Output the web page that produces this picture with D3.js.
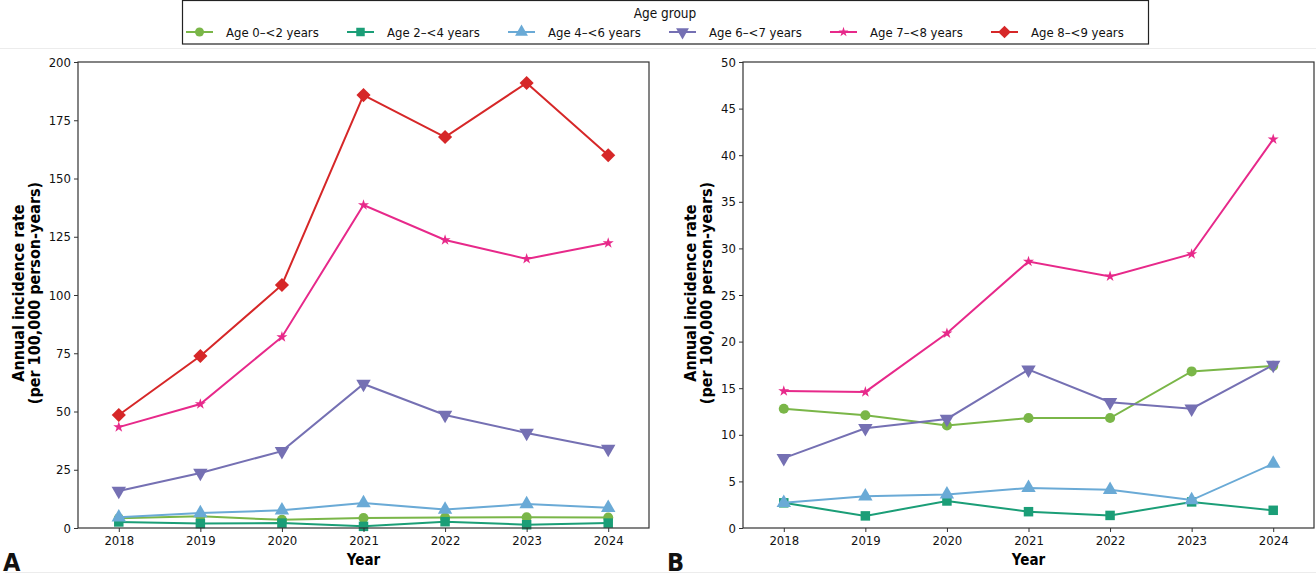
<!DOCTYPE html>
<html>
<head>
<meta charset="utf-8">
<script src="https://cdn.jsdelivr.net/npm/d3@7"></script>
<style>
  html, body { margin: 0; padding: 0; background: #fff; }
  svg { display: block; font-family: "DejaVu Sans", sans-serif; font-stretch: condensed; }
</style>
</head>
<body>
<svg id="chart" width="1316" height="577"></svg>
<script>
// ---------- Data ----------
const years = [2018, 2019, 2020, 2021, 2022, 2023, 2024];
const groups = ["Age 0–<2 years", "Age 2–<4 years", "Age 4–<6 years", "Age 6–<7 years", "Age 7–<8 years", "Age 8–<9 years"];

// Panel A values
const a_age0_2 = [4.2, 5.0, 3.5, 4.3, 4.5, 4.6, 4.5];
const a_age2_4 = [2.6, 1.9, 2.1, 0.7, 2.7, 1.4, 2.1];
const a_age4_6 = [4.6, 6.4, 7.6, 10.7, 7.9, 10.3, 8.7];
const a_age6_7 = [15.9, 23.6, 33.0, 61.8, 48.5, 40.8, 33.9];
const a_age7_8 = [43.3, 53.2, 82.0, 138.6, 123.6, 115.5, 122.3];
const a_age8_9 = [48.5, 73.8, 104.3, 185.8, 167.8, 191.0, 160.0];

// Panel B values
const b_age0_2 = [12.8, 12.1, 11.0, 11.8, 11.8, 16.8, 17.4];
const b_age2_4 = [2.7, 1.3, 2.9, 1.75, 1.35, 2.8, 1.9];
const b_age4_6 = [2.7, 3.4, 3.6, 4.3, 4.1, 3.0, 6.9];
const b_age6_7 = [7.5, 10.7, 11.7, 17.0, 13.5, 12.8, 17.5];
const b_age7_8 = [14.7, 14.6, 20.9, 28.6, 27.0, 29.4, 41.7];

// Tick labels
const yTicksA = [0, 25, 50, 75, 100, 125, 150, 175, 200];
const yTicksB = [0, 5, 10, 15, 20, 25, 30, 35, 40, 45, 50];

// ---------- Styles ----------
const colors = ["#7ab648", "#1b9e77", "#6aaad6", "#7570b3", "#e7298a", "#d62728"];
const symbols = [
  {type: d3.symbolCircle, size: 80, rot: 0},
  {type: d3.symbolSquare, size: 90, rot: 0},
  {type: d3.symbolTriangle, size: 90, rot: 0},
  {type: d3.symbolTriangle, size: 90, rot: 180},
  {type: d3.symbolStar, size: 38, rot: 0},
  {type: d3.symbolSquare, size: 100, rot: 45}
];

const svg = d3.select("#chart");

// faint composite borders
svg.append("line").attr("x1", 0).attr("x2", 1316).attr("y1", 48.5).attr("y2", 48.5).attr("stroke", "#ececec");
svg.append("line").attr("x1", 5).attr("x2", 1316).attr("y1", 572.5).attr("y2", 572.5).attr("stroke", "#ececec");

function drawPanel(cfg) {
  const x = d3.scaleLinear().domain([2017.5, 2024.5]).range([cfg.x0, cfg.x1]);
  const y = d3.scaleLinear().domain([0, cfg.ymax]).range([528, 62]);
  const g = svg.append("g");

  // series
  cfg.series.forEach((vals, i) => {
    if (!vals) return;
    const line = d3.line().x((d, j) => x(years[j])).y(d => y(d));
    g.append("path").datum(vals).attr("d", line)
      .attr("fill", "none").attr("stroke", colors[i]).attr("stroke-width", 2);
    const s = symbols[i];
    g.selectAll(null).data(vals).enter().append("path")
      .attr("d", d3.symbol().type(s.type).size(s.size))
      .attr("transform", (d, j) => `translate(${x(years[j])},${y(d)}) rotate(${s.rot})`)
      .attr("fill", colors[i]);
  });

  // frame
  g.append("rect").attr("x", cfg.x0).attr("y", 62).attr("width", cfg.x1 - cfg.x0).attr("height", 528 - 62)
    .attr("fill", "none").attr("stroke", "#333").attr("stroke-width", 1.2);

  // axes
  const xa = g.append("g").attr("transform", "translate(0,528)")
    .call(d3.axisBottom(x).tickValues(years).tickFormat(d3.format("d")).tickSize(4).tickPadding(4));
  const ya = g.append("g").attr("transform", `translate(${cfg.x0},0)`)
    .call(d3.axisLeft(y).tickValues(cfg.ticks).tickSize(4).tickPadding(3));
  [xa, ya].forEach(a => {
    a.select(".domain").remove();
    a.selectAll("line").attr("stroke", "#333");
    a.selectAll("text").attr("font-size", 13).attr("fill", "#111")
      .attr("font-family", "DejaVu Sans, sans-serif");
  });

  // axis titles
  g.append("text").attr("x", (cfg.x0 + cfg.x1) / 2).attr("y", 565)
    .attr("text-anchor", "middle").attr("font-weight", "bold").attr("font-size", 15).text("Year");
  const yl = g.append("text").attr("transform", `translate(${cfg.x0 - cfg.ylOff},293) rotate(-90)`)
    .attr("text-anchor", "middle").attr("font-weight", "bold").attr("font-size", 16);
  yl.append("tspan").attr("x", 0).attr("dy", "-0.45em").text("Annual incidence rate");
  yl.append("tspan").attr("x", 0).attr("dy", "1.0em").text("(per 100,000 person-years)");

  // panel letter
  g.append("text").attr("x", cfg.letterX).attr("y", 571).attr("font-size", 25).attr("font-weight", "bold")
    .attr("fill", "#111").text(cfg.letter);
}

drawPanel({x0: 78, x1: 649, ymax: 200, ticks: yTicksA, letter: "A", letterX: 3, ylOff: 47,
  series: [a_age0_2, a_age2_4, a_age4_6, a_age6_7, a_age7_8, a_age8_9]});
drawPanel({x0: 743, x1: 1314, ymax: 50, ticks: yTicksB, letter: "B", letterX: 667, ylOff: 39.5,
  series: [b_age0_2, b_age2_4, b_age4_6, b_age6_7, b_age7_8, null]});

// ---------- Legend ----------
const lg = svg.append("g");
lg.append("rect").attr("x", 182.5).attr("y", 0.5).attr("width", 966).attr("height", 43.5)
  .attr("fill", "#fff").attr("stroke", "#222").attr("stroke-width", 1.2);
lg.append("text").attr("x", 665).attr("y", 18).attr("text-anchor", "middle").attr("font-size", 13.5)
  .attr("fill", "#111").text("Age group");
const legX = d3.scaleLinear().domain([0, 5]).range([186, 991]);
groups.forEach((name, i) => {
  const gx = legX(i);
  lg.append("line").attr("x1", gx).attr("x2", gx + 27).attr("y1", 32).attr("y2", 32)
    .attr("stroke", colors[i]).attr("stroke-width", 2);
  const s = symbols[i];
  lg.append("path").attr("d", d3.symbol().type(s.type).size(s.size * 0.8))
    .attr("transform", `translate(${gx + 13.5},32) rotate(${s.rot})`).attr("fill", colors[i]);
  lg.append("text").attr("x", gx + 40).attr("y", 37).attr("font-size", 13).attr("fill", "#111").text(name);
});
</script>
</body>
</html>
